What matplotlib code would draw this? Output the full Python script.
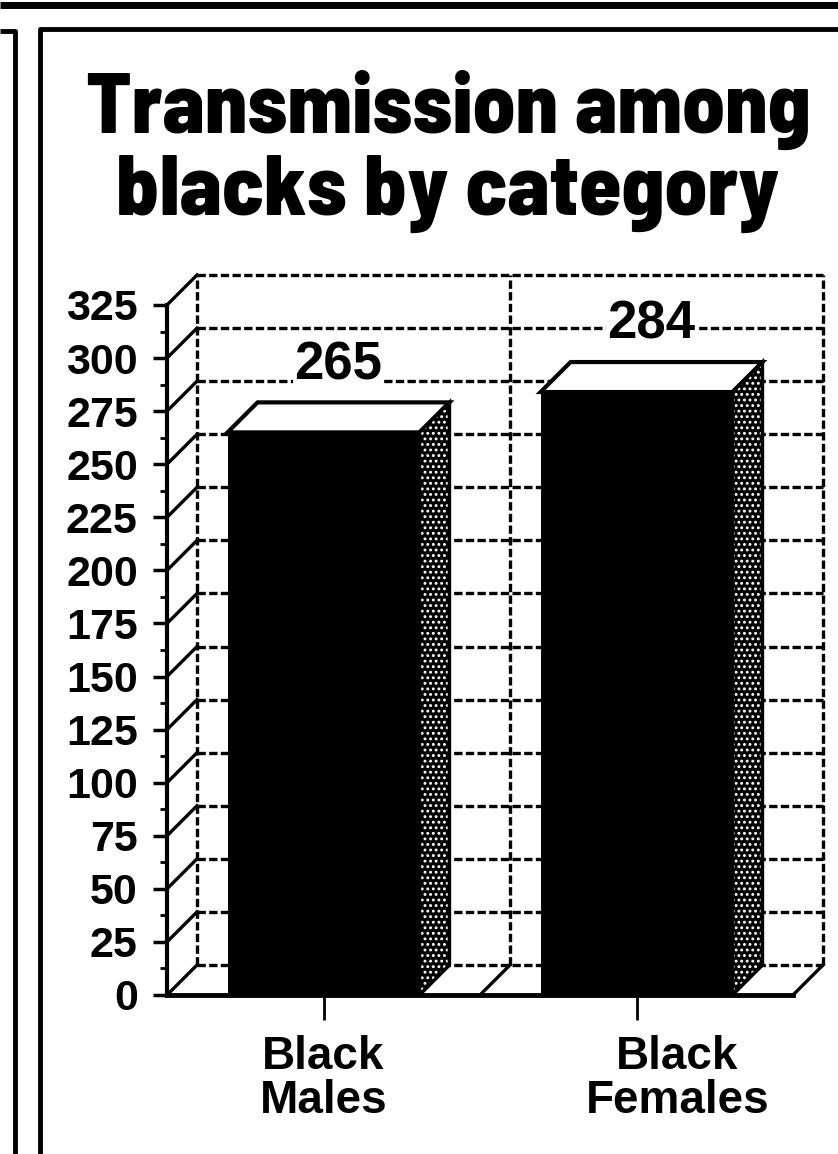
import matplotlib.pyplot as plt
from matplotlib.patches import Polygon
from matplotlib.lines import Line2D

# data
title_lines = ["Transmission among", "blacks by category"]
categories = ["Black\nMales", "Black\nFemales"]
values = [265, 284]
yticks = list(range(0, 326, 25))
label_shift = [0.0, 0.13]   # the printed category labels sit a bit off centre

plt.rcParams['font.family'] = ['Liberation Sans', 'DejaVu Sans']
plt.rcParams['font.weight'] = 'bold'
plt.rcParams['hatch.linewidth'] = 1.3

W, H = 838, 1154
fig = plt.figure(figsize=(W / 100, H / 100), dpi=100)


def frame_line(xs, ys, lw):
    fig.add_artist(Line2D([x / W for x in xs], [1 - y / H for y in ys],
                          color='black', lw=lw, solid_capstyle='butt'))


# newspaper page rules
frame_line([0, W], [5, 5], 5)
frame_line([0, 15, 15], [31, 31, H], 3.5)
frame_line([W, 40, 40], [29, 29, H], 3.5)

# title, condensed heavy face, sized to the printed width
title_font = ['Barlow Semi Condensed', 'Liberation Sans Narrow', 'Liberation Sans']
titles = [fig.text(448 / W, 1 - base / H, txt, ha='center', va='baseline',
                   fontsize=60, weight=800, family=title_font)
          for txt, base in zip(title_lines, [133, 215])]
fig.canvas.draw()
wid = titles[0].get_window_extent().width
for t in titles:
    t.set_fontsize(60 * 725 / wid)

# chart area (front floor edge 167..793 px, back wall up to 823 px)
left, right, top, bottom = 167, 823, 275, 995
depth = 30
ax = fig.add_axes([left / W, 1 - bottom / H, (right - left) / W, (bottom - top) / H])
ax.set_facecolor('none')
for s in ax.spines.values():
    s.set_visible(False)

n = len(categories)
xlo, xhi = -0.5, n - 0.5
ymax = yticks[-1]
dx = (xhi - xlo) * depth / (793 - left)
dy = ymax * depth / (bottom - 305)
ax.set_xlim(xlo, xhi + dx)
ax.set_ylim(0, ymax + dy)

dash = (0, (2.5, 1))
k = dict(color='black', clip_on=False)

# back wall grid and left wall diagonals
for v in yticks:
    ax.plot([xlo + dx, xhi + dx], [v + dy, v + dy], ls=dash, lw=2.4, zorder=1, **k)
    ax.plot([xlo, xlo + dx], [v, v + dy], lw=2.4, zorder=1, **k)
bounds = [xlo + i for i in range(n + 1)]
for xb in bounds:
    ax.plot([xb + dx, xb + dx], [dy, ymax + dy], ls=dash, lw=2.4, zorder=1, **k)
for xb in bounds[1:]:
    ax.plot([xb, xb + dx], [0, dy], lw=2.4, zorder=1, **k)
ax.plot([xlo, xlo], [0, ymax], lw=3, zorder=2, **k)
ax.plot([xlo, xhi], [0, 0], lw=3.5, zorder=2, **k)

# bars with top and shaded side faces
bw = 0.613
xpos = list(range(n))
ax.bar(xpos, values, width=bw, color='black', zorder=3)
for x, v in zip(xpos, values):
    l, r = x - bw / 2, x + bw / 2
    topf = [(l, v), (r, v), (r + dx, v + dy), (l + dx, v + dy)]
    side = [(r, 0), (r + dx, dy), (r + dx, v + dy), (r, v)]
    ax.add_patch(Polygon(topf, closed=True, fc='white', ec='black', lw=3, zorder=4))
    ax.add_patch(Polygon(side, closed=True, fc='black', ec='black', lw=2, zorder=4))
    ax.add_patch(Polygon(side, closed=True, fc='none', ec='white', lw=0,
                         hatch='...', zorder=5))
    ax.add_patch(Polygon(side, closed=True, fc='none', ec='black', lw=2.5, zorder=6))
    ax.text(x + dx / 2, v + dy + 11, str(v), ha='center', va='baseline',
            fontsize=38, weight='bold', zorder=7,
            bbox=dict(fc='white', ec='none', pad=1))

ax.set_yticks(yticks)
ax.set_yticks([t + 12.5 for t in yticks[:-1]], minor=True)
ax.tick_params(axis='y', which='major', length=10, width=2.5, pad=11, labelsize=31)
ax.tick_params(axis='y', which='minor', length=5, width=2)
ax.set_xticks(xpos)
ax.set_xticklabels([])
ax.tick_params(axis='x', length=18, width=2)

for x, lab, sh in zip(xpos, categories, label_shift):
    ax.text(x + sh, -19, lab, ha='center', va='top', fontsize=33,
            weight='bold', linespacing=1.0, clip_on=False)

fig.savefig('out.png', dpi=100)
